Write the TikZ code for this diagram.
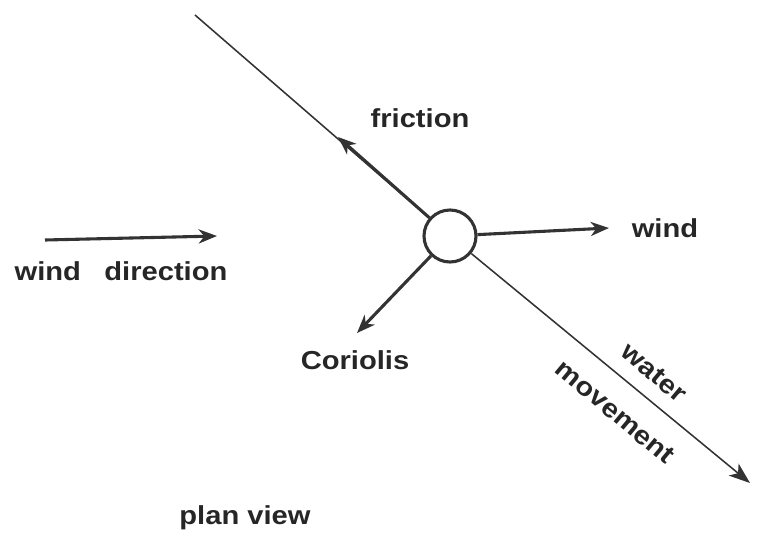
\documentclass[tikz,border=0pt]{standalone}
\usepackage{fontspec}
\setmainfont[FakeStretch=1.12]{Liberation Sans}
\usetikzlibrary{arrows.meta}
\tikzset{
  lbl/.style={font=\fontsize{18.5}{22}\selectfont\bfseries, text=black!85, inner sep=1pt},
  force/.style={line width=2.2pt, draw=black!80, -{Stealth[length=13pt,width=10pt,inset=4pt]}},
  thin/.style={line width=1.1pt, draw=black!80}
}
\begin{document}
\begin{tikzpicture}[x=0.025cm,y=-0.025cm]
    \useasboundingbox (0,0) rectangle (757,540);
    \coordinate (nw) at (195,15);
    \coordinate (se) at (750,483);
    \coordinate (fr) at (338,137);
    \coordinate (wi) at (609,228);
    \coordinate (co) at (357,333);
    \coordinate (ws) at (45,240);
    \coordinate (we) at (217,236);
    \node[circle, draw=black!80, line width=2.2pt, fill=white, minimum size=52*0.025cm, inner sep=0pt] (drop) at (450,236) {};
    \draw[thin] (nw) -- (drop);
    \draw[thin, -{Stealth[length=15pt,width=11pt,inset=4pt]}] (drop) -- (se);
    \draw[force] (drop) -- (fr);
    \draw[force] (drop) -- (wi);
    \draw[force] (drop) -- (co);
    \draw[force] (ws) -- (we);
    \node[lbl] (lfr) at (420,118) {friction};
    \node[lbl] (lwi) at (665,228) {wind};
    \node[lbl] (lco) at (355,360) {Coriolis};
    \node[lbl] (lwd) at (121,271) {wind\hspace{0.9em}direction};
    \node[lbl, rotate=-40] (lwa) at (654,373) {water};
    \node[lbl, rotate=-40] (lmo) at (615,412) {movement};
    \node[lbl] (lpv) at (245,518) {plan view};
  \end{tikzpicture}
\end{document}
